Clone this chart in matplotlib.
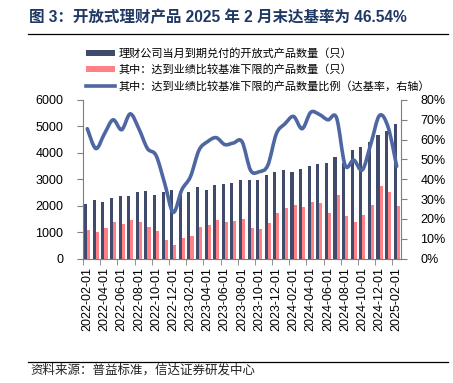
import matplotlib
matplotlib.use("Agg")
import matplotlib.pyplot as plt
from matplotlib.path import Path
from matplotlib.patches import PathPatch, Patch
from matplotlib.lines import Line2D
from matplotlib.ticker import FuncFormatter, FixedLocator
import numpy as np
import pandas as pd

plt.rcParams['font.family'] = ['Liberation Sans', 'Noto Sans CJK SC', 'DejaVu Sans']

# 2022-02 .. 2025-02, monthly
months = pd.date_range('2022-02-01', '2025-02-01', freq='MS').strftime('%Y-%m-%d').tolist()

total = [2075, 2225, 2140, 2300, 2350, 2360, 2500, 2560, 2400, 2500,
         2610, 2400, 2520, 2700, 2590, 2800, 2810, 2845, 2990, 2990,
         2980, 3175, 3260, 3340, 3275, 3400, 3510, 3575, 3610, 3840,
         3600, 4090, 4230, 4400, 4670, 4820, 5075]
reached = [1075, 1010, 1140, 1375, 1310, 1450, 1375, 1190, 1040, 710,
           510, 760, 850, 1210, 1275, 1460, 1390, 1410, 1495, 1140,
           1110, 1340, 1740, 1910, 2010, 1940, 2150, 2110, 1740, 2390,
           1600, 1375, 1640, 2025, 2760, 2525, 2000]
ratio = [65.5, 55.5, 63.0, 70.0, 65.0, 73.0, 65.5, 55.5, 52.0, 38.0,
         23.3, 34.7, 41.3, 54.7, 59.0, 61.0, 57.5, 58.3, 59.0, 44.5,
         43.8, 47.0, 63.0, 68.0, 71.7, 65.5, 73.8, 72.7, 70.0, 71.0,
         47.0, 49.7, 44.7, 58.0, 72.2, 66.3, 46.54]

title = '图 3：开放式理财产品 2025 年 2 月末达基率为 46.54%'
source = '资料来源：普益标准，信达证券研发中心'
leg_labels = ['理财公司当月到期兑付的开放式产品数量（只）',
              '其中：达到业绩比较基准下限的产品数量（只）',
              '其中：达到业绩比较基准下限的产品数量比例（达基率，右轴）']

c_dark = '#404B6C'
c_pink = '#FF8085'
c_line = '#4E67A3'
c_axis = '#7F7F7F'

fig = plt.figure(figsize=(4.53, 3.83), dpi=100)
ax = fig.add_axes([83 / 453, 1 - 258.5 / 383, 318 / 453, 158.5 / 383])
ax2 = ax.twinx()

x = np.arange(len(months))
w = 0.36
ax.bar(x - w / 2, total, width=w, color=c_dark, linewidth=0)
ax.bar(x + w / 2, reached, width=w, color=c_pink, linewidth=0)

# smooth line (Catmull-Rom -> cubic bezier) through the data points
y = np.array(ratio)
verts = [(x[0], y[0])]
codes = [Path.MOVETO]
n = len(x)
for i in range(n - 1):
    p0 = (x[max(i - 1, 0)], y[max(i - 1, 0)])
    p1 = (x[i], y[i])
    p2 = (x[i + 1], y[i + 1])
    p3 = (x[min(i + 2, n - 1)], y[min(i + 2, n - 1)])
    c1 = (p1[0] + (p2[0] - p0[0]) / 6, p1[1] + (p2[1] - p0[1]) / 6)
    c2 = (p2[0] - (p3[0] - p1[0]) / 6, p2[1] - (p3[1] - p1[1]) / 6)
    verts += [c1, c2, p2]
    codes += [Path.CURVE4] * 3
ax2.add_patch(PathPatch(Path(verts, codes), facecolor='none', edgecolor=c_line,
                        lw=2.6, capstyle='round', joinstyle='round'))

ax.set_xlim(-0.5, len(months) - 0.5)
ax.set_ylim(0, 6000)
ax2.set_ylim(0, 80)
ax.set_yticks(range(0, 6001, 1000))
ax2.set_yticks(range(0, 81, 10))
ax2.yaxis.set_major_formatter(FuncFormatter(lambda v, p: f'{v:.0f}%'))

ax.set_xticks(x[::2])
ax.set_xticklabels(months[::2], rotation=90)
ax.xaxis.set_minor_locator(FixedLocator(np.arange(-0.5, len(months), 2)))
ax.tick_params(axis='x', which='major', length=0, labelsize=9, pad=6, colors='#000000')
ax.tick_params(axis='x', which='minor', length=4, direction='out', color=c_axis)
ax.tick_params(axis='y', length=4, direction='out', color=c_axis, labelsize=9, pad=10)
ax2.tick_params(axis='y', length=4, direction='out', color=c_axis, labelsize=9, pad=10)

for a in (ax, ax2):
    a.spines['top'].set_visible(False)
    for s in ('left', 'right', 'bottom'):
        a.spines[s].set_color(c_axis)
        a.spines[s].set_linewidth(0.8)
ax.spines['right'].set_visible(False)
ax2.spines['left'].set_visible(False)
ax2.spines['bottom'].set_visible(False)

handles = [Patch(facecolor=c_dark), Patch(facecolor=c_pink),
           Line2D([], [], color=c_line, lw=2.6)]
fig.legend(handles, leg_labels, loc='upper left', bbox_to_anchor=(86 / 453, 1 - 48 / 383),
           frameon=False, handlelength=2.6, handleheight=0.45,
           handletextpad=0.3, labelspacing=0.5, borderaxespad=0, borderpad=0,
           prop={'family': ['Noto Sans CJK SC'], 'size': 8.0})

fig.text(29 / 453, 1 - 17 / 383, title, fontsize=11.2, fontweight='bold', color='#1F3864',
         va='center', ha='left')
fig.add_artist(Line2D([28 / 453, 448 / 453], [1 - 33.5 / 383] * 2, color='black', lw=0.9))
fig.add_artist(Line2D([28 / 453, 448 / 453], [1 - 362 / 383] * 2, color='black', lw=0.9))
fig.text(30 / 453, 1 - 370 / 383, source, fontsize=9, color='#222222', style='italic',
         va='center', ha='left', family=['Noto Sans CJK SC'])

fig.savefig('out.png', dpi=100)
